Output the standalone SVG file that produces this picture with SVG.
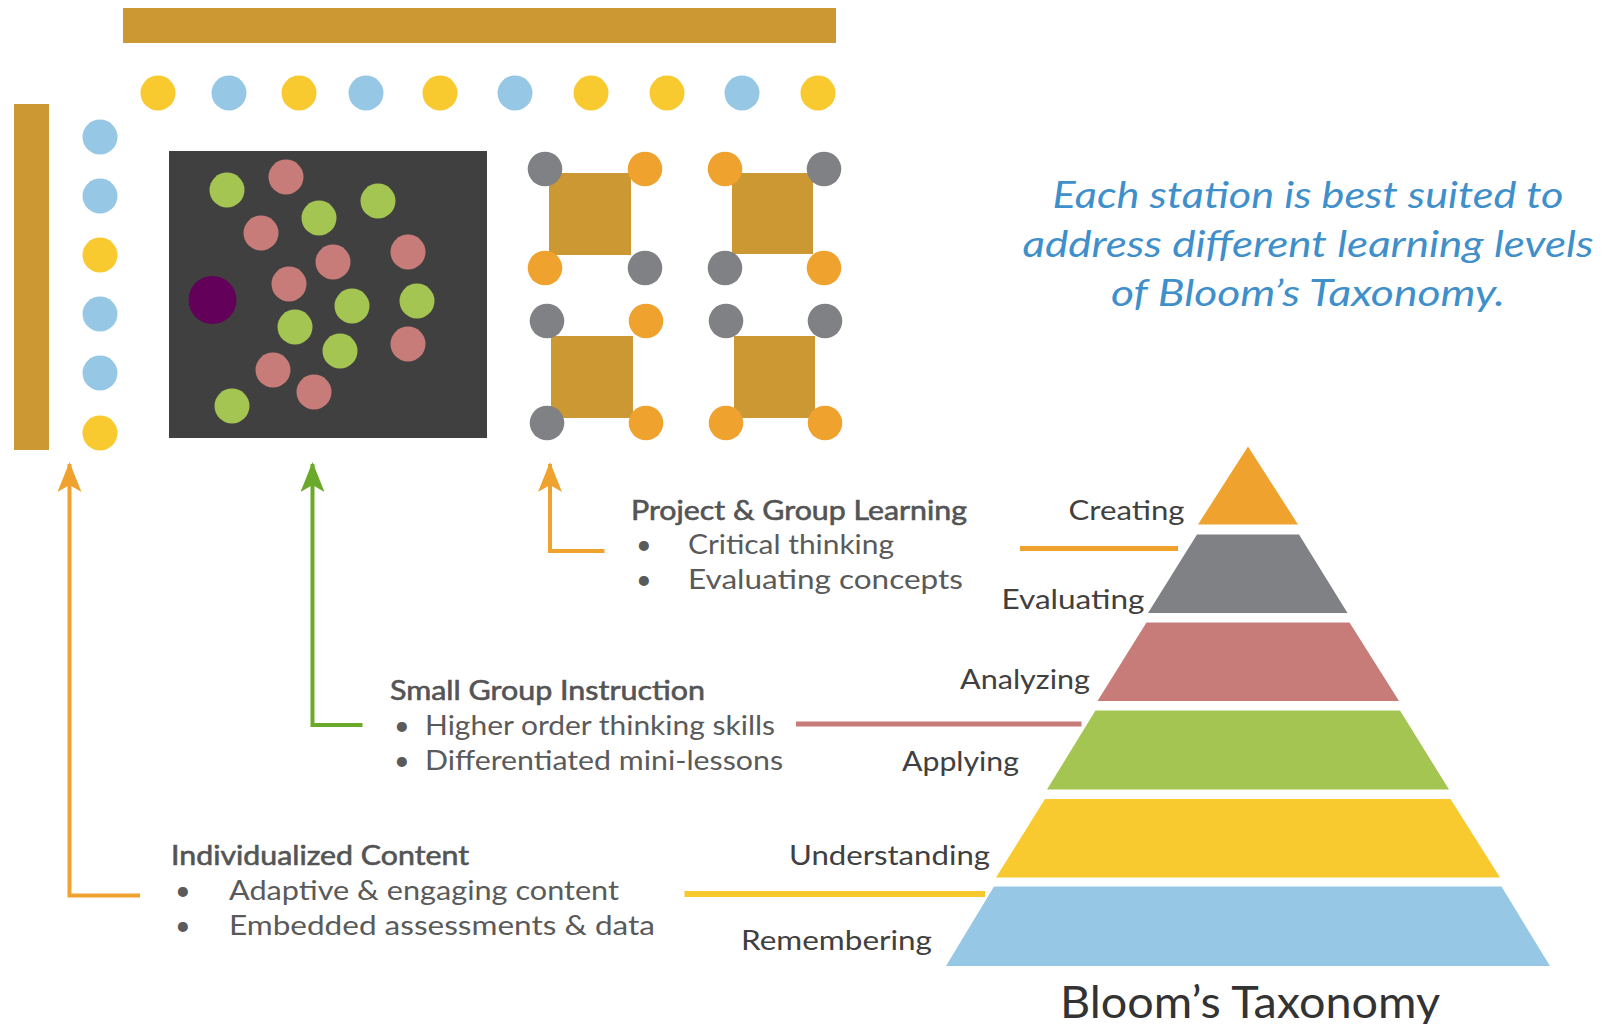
<svg xmlns="http://www.w3.org/2000/svg" width="1601" height="1024" viewBox="0 0 1601 1024">
<defs>
<style>
.gold{fill:#CB9833}
.y{fill:#F9C930}
.b{fill:#96C8E5}
.g{fill:#A4C552}
.p{fill:#C77C79}
.gr{fill:#808184}
.o{fill:#F0A22E}
text{font-family:Lato,"Noto Sans","Liberation Sans",sans-serif}
.head{font-size:27px;font-weight:normal;fill:#545454;stroke:#545454;stroke-width:0.6}
.item{font-size:27px;fill:#5a5a5a}
.lvl{font-size:27px;fill:#404040}
.note{font-size:36px;font-style:italic;fill:#3F8FCB}
.title{font-size:44px;fill:#333333}
.conn{fill:none;stroke-width:4;stroke-linejoin:miter}
</style>
<marker id="arrO" viewBox="0 0 30 24" refX="28" refY="12" markerWidth="30" markerHeight="24" markerUnits="userSpaceOnUse" orient="auto">
<path d="M30 12 L0 0 L7 12 L0 24 Z" fill="#F0A22E"/>
</marker>
<marker id="arrG" viewBox="0 0 30 24" refX="28" refY="12" markerWidth="30" markerHeight="24" markerUnits="userSpaceOnUse" orient="auto">
<path d="M30 12 L0 0 L7 12 L0 24 Z" fill="#6AA92A"/>
</marker>
</defs>
<rect width="1601" height="1024" fill="#ffffff"/>

<g id="room">
<rect class="gold" x="123" y="8" width="713" height="35"/>
<rect class="gold" x="14" y="104" width="35" height="346"/>
<g id="top-seats">
<circle class="y" cx="158" cy="93" r="17.5"/>
<circle class="b" cx="229" cy="93" r="17.5"/>
<circle class="y" cx="299" cy="93" r="17.5"/>
<circle class="b" cx="366" cy="93" r="17.5"/>
<circle class="y" cx="440" cy="93" r="17.5"/>
<circle class="b" cx="515" cy="93" r="17.5"/>
<circle class="y" cx="591" cy="93" r="17.5"/>
<circle class="y" cx="667" cy="93" r="17.5"/>
<circle class="b" cx="742" cy="93" r="17.5"/>
<circle class="y" cx="818" cy="93" r="17.5"/>
</g>
<g id="left-seats">
<circle class="b" cx="100" cy="137" r="17.5"/>
<circle class="b" cx="100" cy="196" r="17.5"/>
<circle class="y" cx="100" cy="255" r="17.5"/>
<circle class="b" cx="100" cy="314" r="17.5"/>
<circle class="b" cx="100" cy="373" r="17.5"/>
<circle class="y" cx="100" cy="433" r="17.5"/>
</g>
</g>

<g id="small-group-area">
<rect x="169" y="151" width="318" height="287" fill="#404040"/>
<circle cx="212.5" cy="300" r="24" fill="#63005A"/>
<circle class="g" cx="227" cy="190" r="17.5"/>
<circle class="g" cx="378" cy="201" r="17.5"/>
<circle class="g" cx="319" cy="218" r="17.5"/>
<circle class="g" cx="352" cy="306" r="17.5"/>
<circle class="g" cx="417" cy="301" r="17.5"/>
<circle class="g" cx="295" cy="327" r="17.5"/>
<circle class="g" cx="340" cy="351" r="17.5"/>
<circle class="g" cx="232" cy="406" r="17.5"/>
<circle class="p" cx="286" cy="177" r="17.5"/>
<circle class="p" cx="261" cy="233" r="17.5"/>
<circle class="p" cx="408" cy="252" r="17.5"/>
<circle class="p" cx="333" cy="262" r="17.5"/>
<circle class="p" cx="289" cy="284" r="17.5"/>
<circle class="p" cx="408" cy="344" r="17.5"/>
<circle class="p" cx="273" cy="370" r="17.5"/>
<circle class="p" cx="314" cy="392" r="17.5"/>
</g>

<g id="project-tables">
<g id="table-1">
<rect class="gold" x="549" y="173" width="82" height="82"/>
<circle class="gr" cx="545" cy="169" r="17.3"/>
<circle class="o" cx="645" cy="169" r="17.3"/>
<circle class="o" cx="545" cy="268" r="17.3"/>
<circle class="gr" cx="645" cy="268" r="17.3"/>
</g>
<g id="table-2">
<rect class="gold" x="732" y="173" width="81" height="81"/>
<circle class="o" cx="725" cy="169" r="17.3"/>
<circle class="gr" cx="824" cy="169" r="17.3"/>
<circle class="gr" cx="725" cy="268" r="17.3"/>
<circle class="o" cx="824" cy="268" r="17.3"/>
</g>
<g id="table-3">
<rect class="gold" x="551" y="336" width="82" height="82"/>
<circle class="gr" cx="547" cy="321" r="17.3"/>
<circle class="o" cx="646" cy="321" r="17.3"/>
<circle class="gr" cx="547" cy="423" r="17.3"/>
<circle class="o" cx="646" cy="423" r="17.3"/>
</g>
<g id="table-4">
<rect class="gold" x="734" y="336" width="81" height="82"/>
<circle class="gr" cx="726" cy="321" r="17.3"/>
<circle class="gr" cx="825" cy="321" r="17.3"/>
<circle class="o" cx="726" cy="423" r="17.3"/>
<circle class="o" cx="825" cy="423" r="17.3"/>
</g>
</g>

<g id="connectors">
<path class="conn" stroke="#F0A22E" d="M140 895.5 H69.5 V464" marker-end="url(#arrO)"/>
<path class="conn" stroke="#6AA92A" d="M362.5 725 H312.5 V464" marker-end="url(#arrG)"/>
<path class="conn" stroke="#F0A22E" d="M604.5 551 H550 V464" marker-end="url(#arrO)"/>
<line x1="1020" y1="548.5" x2="1178" y2="548.5" stroke="#F0A22E" stroke-width="5"/>
<line x1="796" y1="724" x2="1081.5" y2="724" stroke="#C77C79" stroke-width="5"/>
<line x1="684.5" y1="894" x2="985" y2="894" stroke="#F9C82F" stroke-width="6"/>
</g>

<g id="note">
<text class="note" x="1308" y="208" text-anchor="middle" textLength="511" lengthAdjust="spacingAndGlyphs">Each station is best suited to</text>
<text class="note" x="1308" y="257" text-anchor="middle" textLength="571" lengthAdjust="spacingAndGlyphs">address different learning levels</text>
<text class="note" x="1308" y="306" text-anchor="middle" textLength="394" lengthAdjust="spacingAndGlyphs">of Bloom’s Taxonomy.</text>
</g>

<g id="project-group-learning">
<text class="head" x="631" y="520" textLength="336" lengthAdjust="spacingAndGlyphs">Project &amp; Group Learning</text>
<text class="item" x="636" y="554">•</text>
<text class="item" x="688" y="554" textLength="206" lengthAdjust="spacingAndGlyphs">Critical thinking</text>
<text class="item" x="636" y="589">•</text>
<text class="item" x="688" y="589" textLength="275" lengthAdjust="spacingAndGlyphs">Evaluating concepts</text>
</g>

<g id="small-group-instruction">
<text class="head" x="390" y="700" textLength="315" lengthAdjust="spacingAndGlyphs">Small Group Instruction</text>
<text class="item" x="394" y="735">•</text>
<text class="item" x="425" y="735" textLength="350" lengthAdjust="spacingAndGlyphs">Higher order thinking skills</text>
<text class="item" x="394" y="770">•</text>
<text class="item" x="425" y="770" textLength="358" lengthAdjust="spacingAndGlyphs">Differentiated mini-lessons</text>
</g>

<g id="individualized-content">
<text class="head" x="171" y="865" textLength="298" lengthAdjust="spacingAndGlyphs">Individualized Content</text>
<text class="item" x="175" y="900">•</text>
<text class="item" x="229" y="900" textLength="390" lengthAdjust="spacingAndGlyphs">Adaptive &amp; engaging content</text>
<text class="item" x="175" y="935">•</text>
<text class="item" x="229" y="935" textLength="426" lengthAdjust="spacingAndGlyphs">Embedded assessments &amp; data</text>
</g>

<g id="pyramid">
<polygon class="o" points="1248,446.5 1298,524.5 1198,524.5"/>
<polygon class="gr" points="1197,534.5 1299,534.5 1347.5,613 1148,613"/>
<polygon class="p" points="1146.5,622.5 1349.5,622.5 1399,701 1097.5,701"/>
<polygon class="g" points="1095.5,710.5 1400,710.5 1449,789.5 1047,789.5"/>
<polygon class="y" points="1045,799 1450.5,799 1500,877.5 996,877.5"/>
<polygon class="b" points="994,886.5 1501.5,886.5 1550,966 946,966"/>
<text class="lvl" x="1184.5" y="520" text-anchor="end" textLength="116" lengthAdjust="spacingAndGlyphs">Creating</text>
<text class="lvl" x="1144.5" y="609" text-anchor="end" textLength="143" lengthAdjust="spacingAndGlyphs">Evaluating</text>
<text class="lvl" x="1090" y="689" text-anchor="end" textLength="130" lengthAdjust="spacingAndGlyphs">Analyzing</text>
<text class="lvl" x="1019" y="771" text-anchor="end" textLength="117" lengthAdjust="spacingAndGlyphs">Applying</text>
<text class="lvl" x="990" y="865" text-anchor="end" textLength="201" lengthAdjust="spacingAndGlyphs">Understanding</text>
<text class="lvl" x="932" y="950" text-anchor="end" textLength="191" lengthAdjust="spacingAndGlyphs">Remembering</text>
<text class="title" x="1250" y="1018" text-anchor="middle" textLength="380" lengthAdjust="spacingAndGlyphs">Bloom’s Taxonomy</text>
</g>
</svg>
